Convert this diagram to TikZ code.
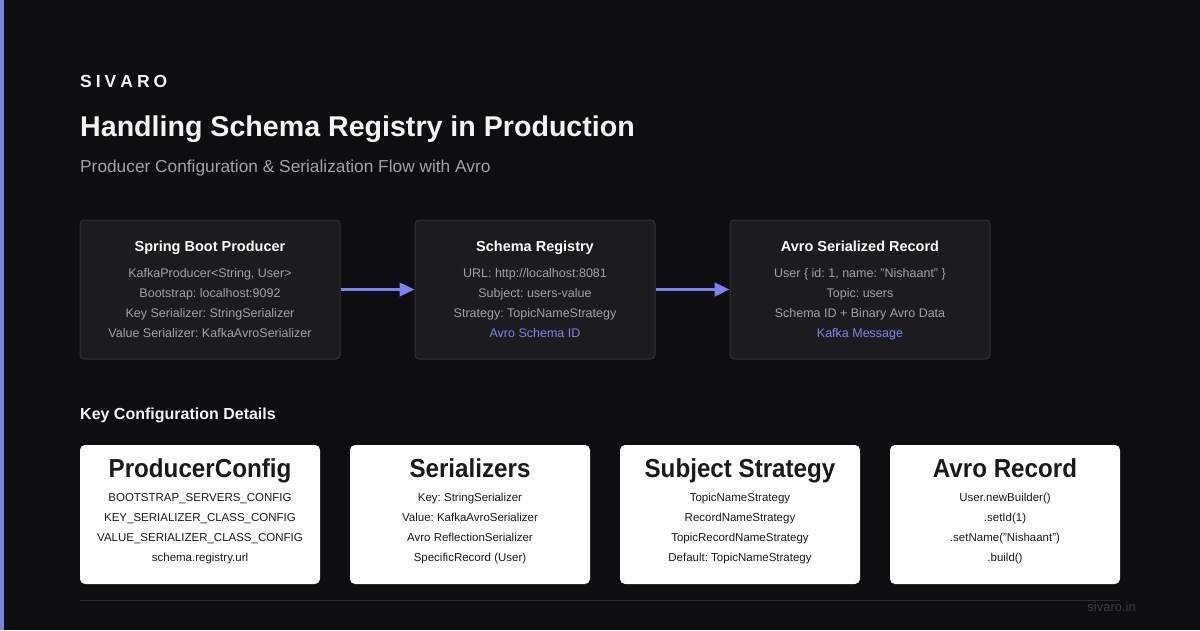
\documentclass[tikz,border=0pt]{standalone}
\usepackage{fontspec}
\setmainfont{Liberation Sans}
\newfontfamily\condf{Liberation Sans}[FakeStretch=0.93]
\usetikzlibrary{arrows.meta}
\frenchspacing
\definecolor{bgc}{HTML}{0E0E10}
\definecolor{accent}{HTML}{7B83EB}
\definecolor{boxfill}{HTML}{1C1C1F}
\definecolor{boxline}{HTML}{323236}
\definecolor{graytxt}{HTML}{A1A1A8}
\definecolor{subtxt}{HTML}{A1A1AA}
\definecolor{bluetxt}{HTML}{7C84EC}
\definecolor{arrowc}{HTML}{7B83F0}
\definecolor{titletxt}{HTML}{F4F4F5}
\definecolor{darktxt}{HTML}{1A1A1C}
\definecolor{rulec}{HTML}{2C2C30}
\definecolor{footc}{HTML}{3C3C42}
\tikzset{
  txt/.style={inner sep=0pt, anchor=base},
  dbox/.style={draw=boxline, fill=boxfill, line width=1pt, rounded corners=4pt, inner sep=0pt},
  wbox/.style={fill=white, rounded corners=5pt, inner sep=0pt, minimum width=240pt, minimum height=139pt},
  dtitle/.style={txt, text=white, font=\fontsize{14.5}{17}\selectfont\bfseries},
  dline/.style={txt, text=graytxt, font=\fontsize{12.5}{15}\selectfont},
  bline/.style={txt, text=bluetxt, font=\fontsize{12.5}{15}\selectfont},
  wtitle/.style={txt, text=darktxt, font=\fontsize{26}{30}\selectfont\condf\bfseries},
  wline/.style={txt, text=darktxt, font=\fontsize{11.5}{14}\selectfont},
  arr/.style={draw=arrowc, line width=3pt, -{Triangle[length=15pt,width=13.5pt]}}
}
\begin{document}
\begin{tikzpicture}[x=1pt,y=-1pt]
\useasboundingbox (0,0) rectangle (1200,630);
\fill[bgc] (0,0) rectangle (1200,630);
\fill[accent] (0,0) rectangle (4,630);

% header
\node[txt, anchor=base west, text=titletxt, font=\fontsize{17.5}{20}\selectfont\bfseries] (brand) at (80,87.5)
  {S\kern4pt I\kern4pt V\kern4pt A\kern4pt R\kern4pt O};
\node[txt, anchor=base west, text=titletxt, font=\fontsize{28.6}{32}\selectfont\bfseries] (title) at (80,136)
  {Handling Schema Registry in Production};
\node[txt, anchor=base west, text=subtxt, font=\fontsize{17.3}{20}\selectfont] (sub) at (80,172.5)
  {Producer Configuration \& Serialization Flow with Avro};

% top flow boxes
\node[dbox, minimum width=260pt, minimum height=139pt] (prod) at (210,289.5) {};
\node[dbox, minimum width=240pt, minimum height=139pt] (reg) at (535,289.5) {};
\node[dbox, minimum width=260pt, minimum height=139pt] (rec) at (860,289.5) {};

\node[dtitle] (prodT) at (210,251.5) {Spring Boot Producer};
\node[dline] (prod1) at (210,277.5) {KafkaProducer<String, User>};
\node[dline] (prod2) at (210,297.5) {Bootstrap: localhost:9092};
\node[dline] (prod3) at (210,317.5) {Key Serializer: StringSerializer};
\node[dline] (prod4) at (210,337.5) {Value Serializer: KafkaAvroSerializer};

\node[dtitle] (regT) at (535,251.5) {Schema Registry};
\node[dline] (reg1) at (535,277.5) {URL: http://localhost:8081};
\node[dline] (reg2) at (535,297.5) {Subject: users-value};
\node[dline] (reg3) at (535,317.5) {Strategy: TopicNameStrategy};
\node[bline] (reg4) at (535,337.5) {Avro Schema ID};

\node[dtitle] (recT) at (860,251.5) {Avro Serialized Record};
\node[dline] (rec1) at (860,277.5) {User \{ id: 1, name: "Nishaant" \}};
\node[dline] (rec2) at (860,297.5) {Topic: users};
\node[dline] (rec3) at (860,317.5) {Schema ID + Binary Avro Data};
\node[bline] (rec4) at (860,337.5) {Kafka Message};

\draw[arr] (prod.east) -- (reg.west);
\draw[arr] (reg.east) -- (rec.west);

% key configuration
\node[txt, anchor=base west, text=titletxt, font=\fontsize{16}{19}\selectfont\bfseries] (keyT) at (80,419)
  {Key Configuration Details};

\node[wbox] (pc) at (200,514.5) {};
\node[wbox] (ser) at (470,514.5) {};
\node[wbox] (ss) at (740,514.5) {};
\node[wbox, minimum width=230pt] (ar) at (1005,514.5) {};

\node[wtitle] (pcT) at (200,477) {ProducerConfig};
\node[wline] (pc1) at (200,501.5) {BOOTSTRAP\_SERVERS\_CONFIG};
\node[wline] (pc2) at (200,521.5) {KEY\_SERIALIZER\_CLASS\_CONFIG};
\node[wline] (pc3) at (200,541.5) {VALUE\_SERIALIZER\_CLASS\_CONFIG};
\node[wline] (pc4) at (200,561.5) {schema.registry.url};

\node[wtitle] (serT) at (470,477) {Serializers};
\node[wline] (ser1) at (470,501.5) {Key: StringSerializer};
\node[wline] (ser2) at (470,521.5) {Value: KafkaAvroSerializer};
\node[wline] (ser3) at (470,541.5) {Avro ReflectionSerializer};
\node[wline] (ser4) at (470,561.5) {SpecificRecord (User)};

\node[wtitle] (ssT) at (740,477) {Subject Strategy};
\node[wline] (ss1) at (740,501.5) {TopicNameStrategy};
\node[wline] (ss2) at (740,521.5) {RecordNameStrategy};
\node[wline] (ss3) at (740,541.5) {TopicRecordNameStrategy};
\node[wline] (ss4) at (740,561.5) {Default: TopicNameStrategy};

\node[wtitle] (arT) at (1005,477) {Avro Record};
\node[wline] (ar1) at (1005,501.5) {User.newBuilder()};
\node[wline] (ar2) at (1005,521.5) {.setId(1)};
\node[wline] (ar3) at (1005,541.5) {.setName("Nishaant")};
\node[wline] (ar4) at (1005,561.5) {.build()};

% footer
\coordinate (ruleL) at (80,600.5);
\coordinate (ruleR) at (1120,600.5);
\draw[rulec, line width=1pt] (ruleL) -- (ruleR);
\node[txt, anchor=base east, text=footc, font=\fontsize{13}{15}\selectfont] (foot) at (1136,611.5) {sivaro.in};
\end{tikzpicture}
\end{document}
